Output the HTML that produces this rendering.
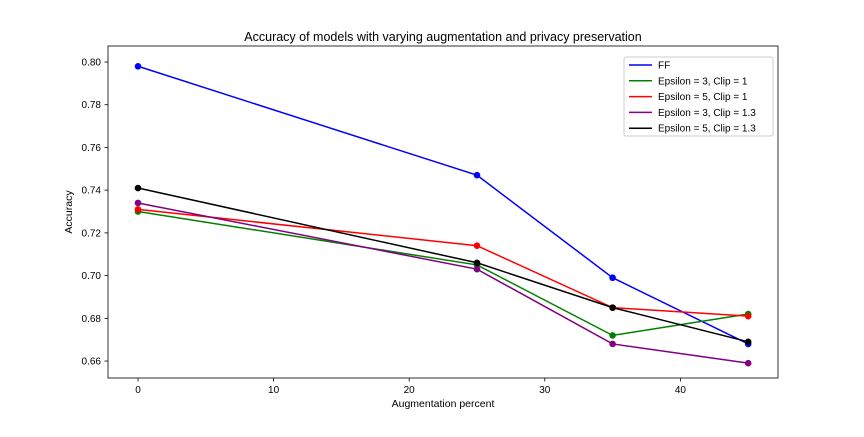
<!DOCTYPE html>
<html><head><meta charset="utf-8"><style>
body{margin:0;background:#fff}
svg text{font-family:"Liberation Sans","DejaVu Sans",sans-serif;fill:#000}
</style></head><body>
<svg id="chart" width="864" height="432">
<rect x="0" y="0" width="864" height="432" fill="#fff"/>
<text x="443" y="41" font-size="12.5" text-anchor="middle">Accuracy of models with varying augmentation and privacy preservation</text>
<g id="plot"></g>
<rect x="108" y="46" width="670" height="332" fill="none" stroke="#000" stroke-width="0.8"/>
<text x="443" y="407" font-size="10.5" text-anchor="middle">Augmentation percent</text>
<text x="72" y="212" font-size="10.5" text-anchor="middle" transform="rotate(-90 72 212)">Accuracy</text>
</svg>
<script>
const xValues=[0,25,35,45];
const xTicks=[0,10,20,30,40];
const yTicks=[0.66,0.68,0.70,0.72,0.74,0.76,0.78,0.80];
const seriesNames=["FF","Epsilon = 3, Clip = 1","Epsilon = 5, Clip = 1","Epsilon = 3, Clip = 1.3","Epsilon = 5, Clip = 1.3"];
const seriesColors=["#0000ff","#008000","#ff0000","#800080","#000000"];
const ff=[0.798,0.747,0.699,0.668];
const e3c1=[0.730,0.705,0.672,0.682];
const e5c1=[0.731,0.714,0.685,0.681];
const e3c13=[0.734,0.703,0.668,0.659];
const e5c13=[0.741,0.706,0.685,0.669];
const seriesValues=[ff,e3c1,e5c1,e3c13,e5c13];
const NS="http://www.w3.org/2000/svg";
const xs=v=>138+v*13.56;
const ys=v=>62+(0.80-v)*2136;
const g=document.getElementById('plot');
function mk(t,a,p){const e=document.createElementNS(NS,t);for(const k in a)e.setAttribute(k,a[k]);(p||g).appendChild(e);return e;}
xTicks.forEach(t=>{
 const x=xs(t);
 const l=mk('line',{x1:x,x2:x,y1:378,y2:381.5,stroke:'#000','stroke-width':0.8});
 
 
 const tx=mk('text',{x:x,y:393,'font-size':10,'text-anchor':'middle'});tx.textContent=t;
 
 
});
yTicks.forEach(t=>{
 const y=ys(t);
 const l=mk('line',{x1:104.5,x2:108,y1:y,y2:y,stroke:'#000','stroke-width':0.8});
 
 
 const tx=mk('text',{x:101,y:y+3.5,'font-size':10,'text-anchor':'end'});tx.textContent=t.toFixed(2);
 
 
});
seriesValues.forEach((vals,i)=>{
 const pts=vals.map((v,j)=>xs(xValues[j])+','+ys(v)).join(' ');
 const pl=mk('polyline',{points:pts,fill:'none',stroke:seriesColors[i],'stroke-width':1.5});
 
 
 vals.forEach((v,j)=>{
  const c=mk('circle',{cx:xs(xValues[j]),cy:ys(v),r:3.3,fill:seriesColors[i]});
  
  
 });
});
const lg=mk('g',{});


mk('rect',{x:624,y:57,width:149,height:79,fill:'#fff',stroke:'#ccc','stroke-width':1,rx:2},lg);
seriesNames.forEach((n,i)=>{
 const y=65+i*15.8;
 const eg=mk('g',{},lg);
 
 
 mk('line',{x1:629,x2:652,y1:y,y2:y,stroke:seriesColors[i],'stroke-width':1.5},eg);
 const t=mk('text',{x:658,y:y+3.5,'font-size':10},eg);t.textContent=n;
});
</script>
</body></html>
